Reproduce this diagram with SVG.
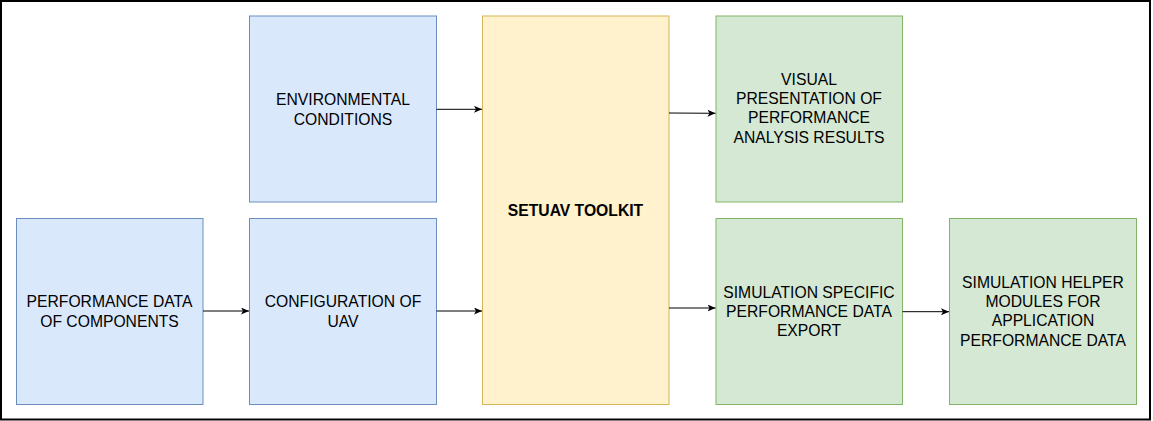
<svg xmlns="http://www.w3.org/2000/svg" width="1153" height="421" viewBox="0 0 1153 421">
<style>
.blue{fill:#dae8fc;stroke:#6c8ebf;stroke-width:1}
.yellow{fill:#fff2cc;stroke:#d6b656;stroke-width:1}
.green{fill:#d5e8d4;stroke:#82b366;stroke-width:1}
text{font-family:"Liberation Sans",Arial,Helvetica,sans-serif;font-size:15.7px;fill:#000;text-anchor:middle}
.b{font-weight:bold}
.c{fill:none;stroke:#000;stroke-width:1}
</style>
<defs>
<marker id="ah" markerWidth="10" markerHeight="10" refX="8" refY="3.5" orient="auto" markerUnits="userSpaceOnUse">
<path d="M0,0 L8,3.5 L0,7 L2,3.5 Z" fill="#000"/>
</marker>
</defs>
<rect x="1" y="1" width="1149" height="418.5" fill="#fff" stroke="#000" stroke-width="2"/>
<g id="env">
<rect class="blue" x="249.5" y="16" width="187" height="186"/>
<text x="343" y="105.3">ENVIRONMENTAL</text>
<text x="343" y="124.7">CONDITIONS</text>
</g>
<g id="perf">
<rect class="blue" x="16.5" y="218.5" width="186.5" height="186"/>
<text x="109.5" y="307">PERFORMANCE DATA</text>
<text x="109.5" y="326.5">OF COMPONENTS</text>
</g>
<g id="config">
<rect class="blue" x="249.5" y="218.5" width="187" height="186"/>
<text x="343" y="307">CONFIGURATION OF</text>
<text x="343" y="326.5">UAV</text>
</g>
<g id="setuav">
<rect class="yellow" x="482.5" y="16" width="186.5" height="388.5"/>
<text class="b" x="575.5" y="216">SETUAV TOOLKIT</text>
</g>
<g id="visual">
<rect class="green" x="716" y="16" width="186.5" height="186"/>
<text x="809" y="84.7">VISUAL</text>
<text x="809" y="104">PRESENTATION OF</text>
<text x="809" y="123.3">PERFORMANCE</text>
<text x="809" y="142.7">ANALYSIS RESULTS</text>
</g>
<g id="simexport">
<rect class="green" x="716" y="218.5" width="186.5" height="186"/>
<text x="809" y="297.7">SIMULATION SPECIFIC</text>
<text x="809" y="316.7">PERFORMANCE DATA</text>
<text x="809" y="335.7">EXPORT</text>
</g>
<g id="simhelper">
<rect class="green" x="949.5" y="218.5" width="187" height="186"/>
<text x="1043" y="287.7">SIMULATION HELPER</text>
<text x="1043" y="306.8">MODULES FOR</text>
<text x="1043" y="326.2">APPLICATION</text>
<text x="1043" y="345.6">PERFORMANCE DATA</text>
</g>
<g id="connectors">
<path class="c" d="M436.5,109.3 L482,109.3" marker-end="url(#ah)"/>
<path class="c" d="M203,311 L249,311" marker-end="url(#ah)"/>
<path class="c" d="M436.5,311 L482,311" marker-end="url(#ah)"/>
<path class="c" d="M669,113 L715.5,113.3" marker-end="url(#ah)"/>
<path class="c" d="M669,308 L715.5,308" marker-end="url(#ah)"/>
<path class="c" d="M902.5,311.7 L949,311.7" marker-end="url(#ah)"/>
</g>
</svg>
